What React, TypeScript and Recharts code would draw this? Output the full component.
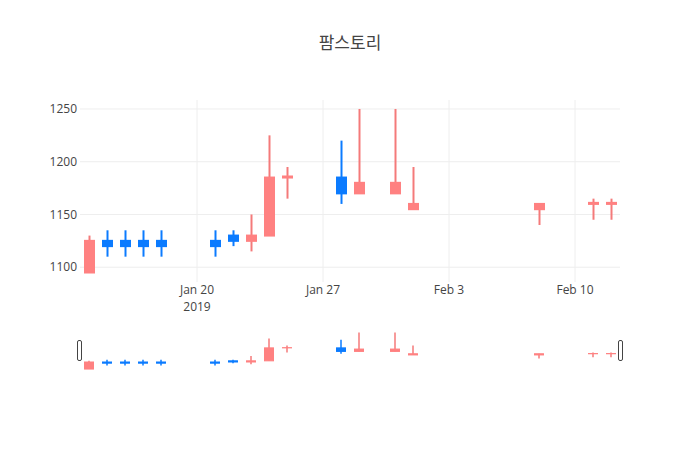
import React from "react";
import { ComposedChart, Bar, XAxis, YAxis, CartesianGrid } from "recharts";

// trading days and OHLC values
const DATES = [
  "2019-01-14", "2019-01-15", "2019-01-16", "2019-01-17", "2019-01-18",
  "2019-01-21", "2019-01-22", "2019-01-23", "2019-01-24", "2019-01-25",
  "2019-01-28", "2019-01-29", "2019-01-31", "2019-02-01", "2019-02-08",
  "2019-02-11", "2019-02-12",
];
const OPEN = [1125, 1120, 1120, 1120, 1120, 1120, 1125, 1130, 1185, 1186, 1170, 1180, 1180, 1160, 1160, 1161, 1161];
const HIGH = [1130, 1135, 1135, 1135, 1135, 1135, 1135, 1150, 1225, 1195, 1220, 1250, 1250, 1195, 1160, 1165, 1165];
const LOW = [1095, 1110, 1110, 1110, 1110, 1110, 1120, 1115, 1130, 1165, 1160, 1170, 1170, 1155, 1140, 1145, 1145];
const CLOSE = [1095, 1125, 1125, 1125, 1125, 1125, 1130, 1125, 1130, 1185, 1185, 1170, 1170, 1155, 1155, 1160, 1160];

const X_TICKS = ["2019-01-20", "2019-01-27", "2019-02-03", "2019-02-10"];
const X_TICK_LABELS = ["Jan 20", "Jan 27", "Feb 3", "Feb 10"];
const Y_TICKS = [1100, 1150, 1200, 1250];

const TITLE = "팜스토리";

const BLUE = "#0b7bff";
const RED_LINE = "#f47a7a";
const RED_FILL = "#ff8181";

const toTime = (d: string) => Date.parse(d + "T00:00:00Z");
const HALF_DAY = 12 * 3600 * 1000;

const rows = DATES.map((d, i) => ({
  t: toTime(d),
  open: OPEN[i],
  high: HIGH[i],
  low: LOW[i],
  close: CLOSE[i],
}));

const xTickTimes = X_TICKS.map(toTime);
const xDomain = [toTime(DATES[0]) - HALF_DAY, toTime(DATES[DATES.length - 1]) + HALF_DAY];

function makeCandle(bodyW: number, wickW: number, outline: number) {
  return (props: any) => {
    const { x, y, width, height, payload } = props;
    if (x == null || y == null || !payload) return <g />;
    const top = Math.min(y, y + height);
    const bottom = Math.max(y, y + height);
    const span = payload.high - payload.low;
    const k = span > 0 ? (bottom - top) / span : 0;
    const toY = (v: number) => top + (payload.high - v) * k;
    const cx = x + width / 2;
    const up = payload.close >= payload.open;
    const line = up ? BLUE : RED_LINE;
    const fill = up ? BLUE : RED_FILL;
    const yo = toY(payload.open);
    const yc = toY(payload.close);
    return (
      <g>
        <line x1={cx} x2={cx} y1={top} y2={bottom} stroke={line} strokeWidth={wickW} />
        <rect
          x={cx - bodyW / 2}
          y={Math.min(yo, yc)}
          width={bodyW}
          height={Math.abs(yo - yc)}
          fill={fill}
          stroke={fill}
          strokeWidth={outline}
        />
      </g>
    );
  };
}

const DateTick = (props: any) => {
  const { x, y, payload } = props;
  const i = xTickTimes.indexOf(payload.value);
  return (
    <text x={x} y={y} textAnchor="middle" fill="#444" fontSize={12}>
      <tspan x={x} dy={12}>{X_TICK_LABELS[i]}</tspan>
      {i === 0 && (
        <tspan x={x} dy={17}>
          2019
        </tspan>
      )}
    </text>
  );
};

export default function App() {
  return (
    <div
      style={{
        position: "absolute",
        left: 0,
        top: 0,
        width: 700,
        height: 450,
        background: "#fff",
        fontFamily: "'Open Sans', 'Noto Sans CJK KR', sans-serif",
      }}
    >
      <div
        style={{
          position: "absolute",
          top: 32,
          left: 0,
          width: 700,
          height: 22,
          lineHeight: "22px",
          textAlign: "center",
          fontSize: 17,
          color: "#444",
        }}
      >
        {TITLE}
      </div>

      <div style={{ position: "absolute", left: 0, top: 0 }}>
        <ComposedChart
          width={700}
          height={450}
          data={rows}
          margin={{ top: 100, right: 80, left: 0, bottom: 138 }}
        >
          {/* grid only at tick values, no border lines */}
          <CartesianGrid stroke="#eee" strokeWidth={1} syncWithTicks />
          <XAxis
            dataKey="t"
            type="number"
            domain={xDomain}
            ticks={xTickTimes}
            tick={<DateTick />}
            axisLine={false}
            tickLine={false}
            tickSize={0}
            tickMargin={0}
            height={30}
            allowDataOverflow
          />
          <YAxis
            type="number"
            domain={[1086, 1258.5]}
            ticks={Y_TICKS}
            tick={{ fill: "#444", fontSize: 12 }}
            axisLine={false}
            tickLine={false}
            tickSize={0}
            tickMargin={3}
            width={80}
            allowDataOverflow
          />
          <Bar
            dataKey={(d: any) => [d.low, d.high]}
            barSize={11}
            shape={makeCandle(9, 2, 2)}
            isAnimationActive={false}
          />
        </ComposedChart>
      </div>

      {/* range slider preview */}
      <div style={{ position: "absolute", left: 0, top: 330 }}>
        <ComposedChart
          width={700}
          height={40}
          data={rows}
          margin={{ top: 0, right: 80, left: 80, bottom: 0 }}
        >
          <XAxis dataKey="t" type="number" domain={xDomain} hide allowDataOverflow />
          <YAxis type="number" domain={[1091, 1261]} hide allowDataOverflow />
          <Bar
            dataKey={(d: any) => [d.low, d.high]}
            barSize={10}
            shape={makeCandle(9, 1.5, 1)}
            isAnimationActive={false}
          />
        </ComposedChart>
      </div>

      <svg
        width={700}
        height={450}
        style={{ position: "absolute", left: 0, top: 0, pointerEvents: "none" }}
      >
        <rect x={77.5} y={340.5} width={4} height={20} rx={1.5} fill="#fff" stroke="#444" strokeWidth={1} />
        <rect x={618.5} y={340.5} width={4} height={20} rx={1.5} fill="#fff" stroke="#444" strokeWidth={1} />
      </svg>
    </div>
  );
}
